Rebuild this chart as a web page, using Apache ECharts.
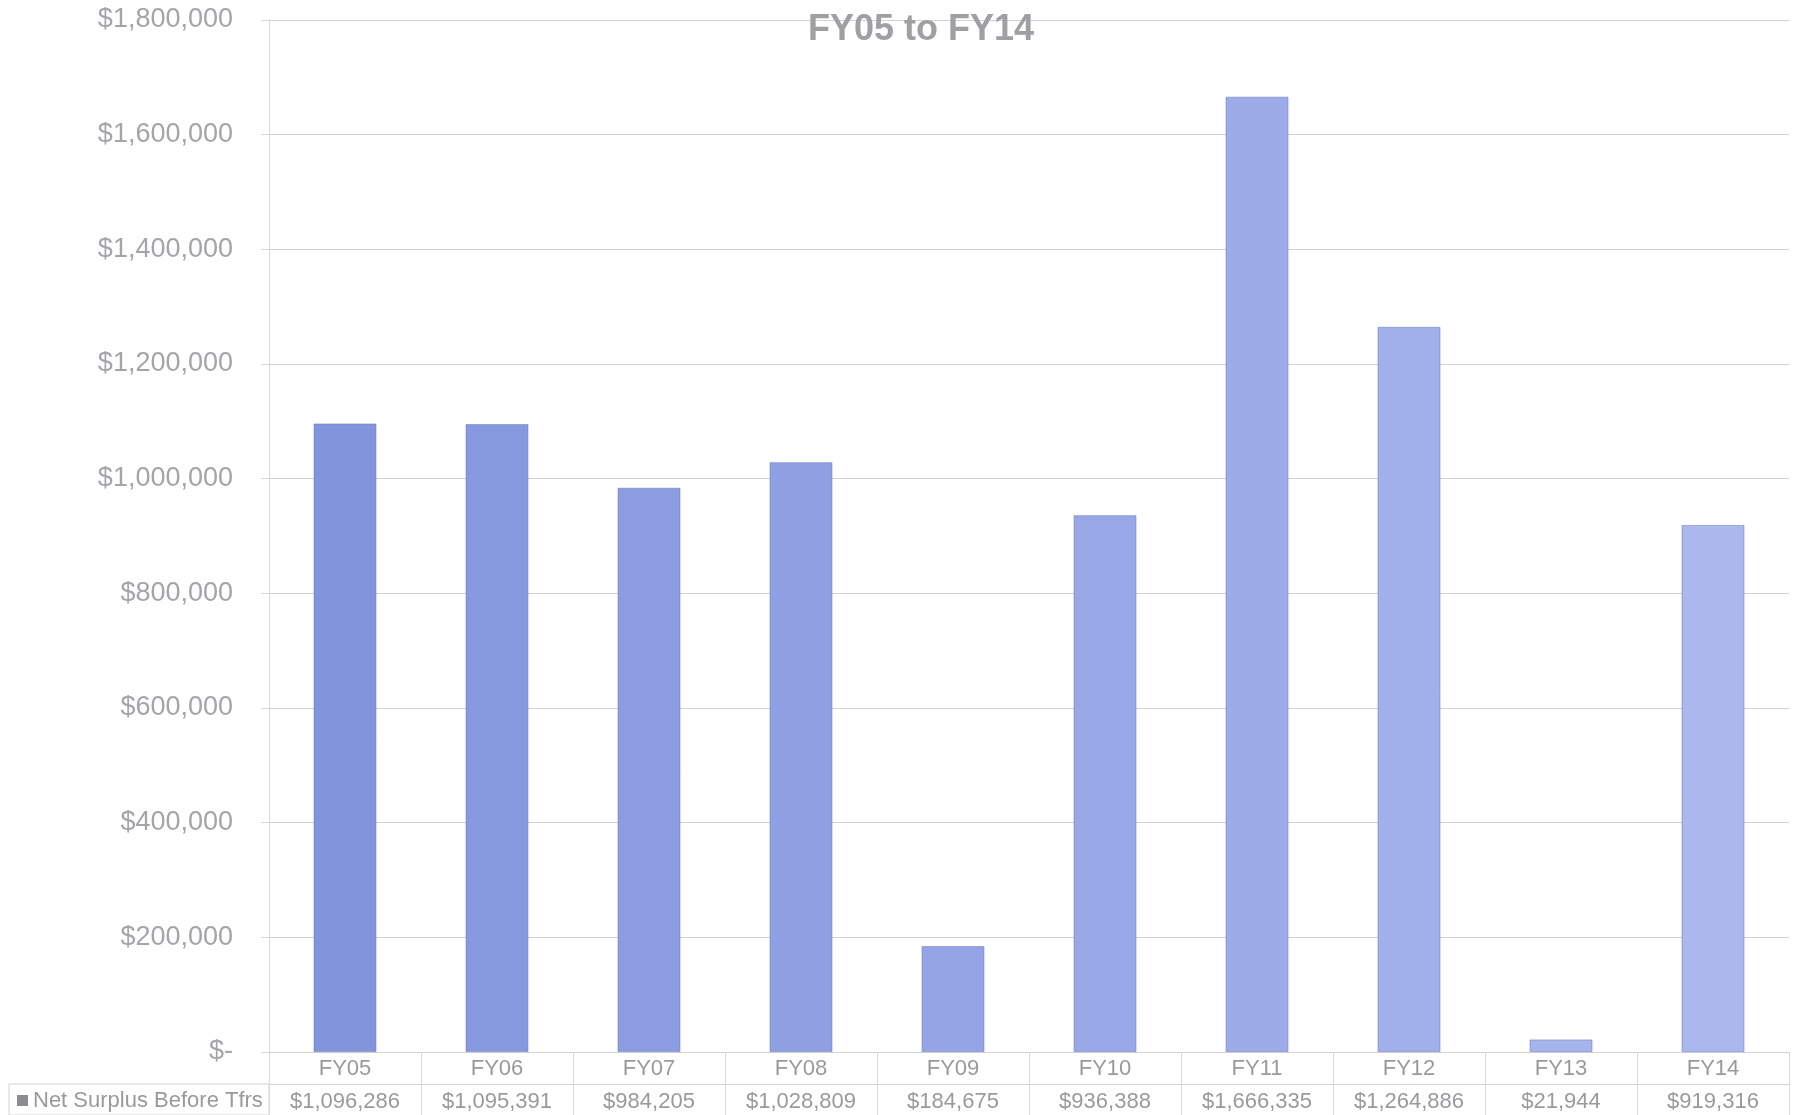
<!DOCTYPE html>
<html>
<head>
<meta charset="utf-8">
<script src="https://cdn.jsdelivr.net/npm/echarts@6/dist/echarts.min.js"></script>
<style>
  html, body { margin: 0; padding: 0; background: #fff; }
  #chart { width: 1802px; height: 1115px; }
</style>
</head>
<body>
<div id="chart"></div>
<script>
const categories = ['FY05', 'FY06', 'FY07', 'FY08', 'FY09', 'FY10', 'FY11', 'FY12', 'FY13', 'FY14'];
const surplus = [1096286, 1095391, 984205, 1028809, 184675, 936388, 1666335, 1264886, 21944, 919316];
const seriesName = 'Net Surplus Before Tfrs';
const yMax = 1800000;
const yStep = 200000;

const money = v => v === 0 ? '$-' : '$' + v.toLocaleString('en-US');

// bars get a touch lighter from left to right, like the scan
const shade = i => {
  const t = i / (categories.length - 1);
  const a = [130, 148, 220], b = [170, 184, 238];
  const c = a.map((x, k) => Math.round(x + (b[k] - x) * t));
  return 'rgb(' + c.join(',') + ')';
};

const font = '"Liberation Sans", Arial, sans-serif';
const chart = echarts.init(document.getElementById('chart'));

chart.setOption({
  animation: false,
  backgroundColor: '#fff',
  title: {
    text: 'FY05 to FY14',
    left: 916, top: 7,
    textAlign: 'center',
    textStyle: { color: '#a0a0a4', fontSize: 36, fontWeight: 'bold', fontFamily: font }
  },
  grid: { left: 269, right: 13, top: 20, bottom: 63 },
  xAxis: [{
    type: 'category',
    data: categories,
    position: 'bottom',
    axisLine: { lineStyle: { color: '#cfcfcf' } },
    axisTick: { show: true, inside: false, length: 63, lineStyle: { color: '#d9d9d9' } },
    axisLabel: { color: '#9a9a9e', fontSize: 22, fontFamily: font, margin: 6 }
  }, {
    type: 'category',
    data: surplus.map(money),
    position: 'bottom',
    offset: 32,
    axisLine: { lineStyle: { color: '#d4d4d4' } },
    axisTick: { show: false },
    axisLabel: { color: '#9a9a9e', fontSize: 22, fontFamily: font, margin: 7 }
  }],
  yAxis: {
    type: 'value',
    min: 0, max: yMax, interval: yStep,
    axisLine: { show: true, lineStyle: { color: '#d9d9d9' } },
    axisTick: { show: true, length: 8, lineStyle: { color: '#d9d9d9' } },
    axisLabel: { color: '#a4a4aa', fontSize: 27, fontFamily: font, margin: 36, formatter: money },
    splitLine: { lineStyle: { color: '#d2d2d2' } }
  },
  series: [{
    name: seriesName,
    type: 'bar',
    data: surplus,
    barWidth: 63,
    itemStyle: {
      color: p => shade(p.dataIndex),
      borderColor: 'rgba(110,125,190,0.55)',
      borderWidth: 1
    }
  }],
  graphic: [
    { type: 'rect', shape: { x: 9, y: 1084, width: 260, height: 31 },
      style: { fill: 'none', stroke: '#d2d2d2', lineWidth: 1 } },
    { type: 'rect', shape: { x: 17, y: 1095, width: 11, height: 11 },
      style: { fill: '#8c8c90' } },
    { type: 'text', x: 33, y: 1101,
      style: { text: seriesName, fill: '#9a9a9e', fontSize: 22, fontFamily: font, verticalAlign: 'middle' } }
  ]
});
</script>
</body>
</html>
